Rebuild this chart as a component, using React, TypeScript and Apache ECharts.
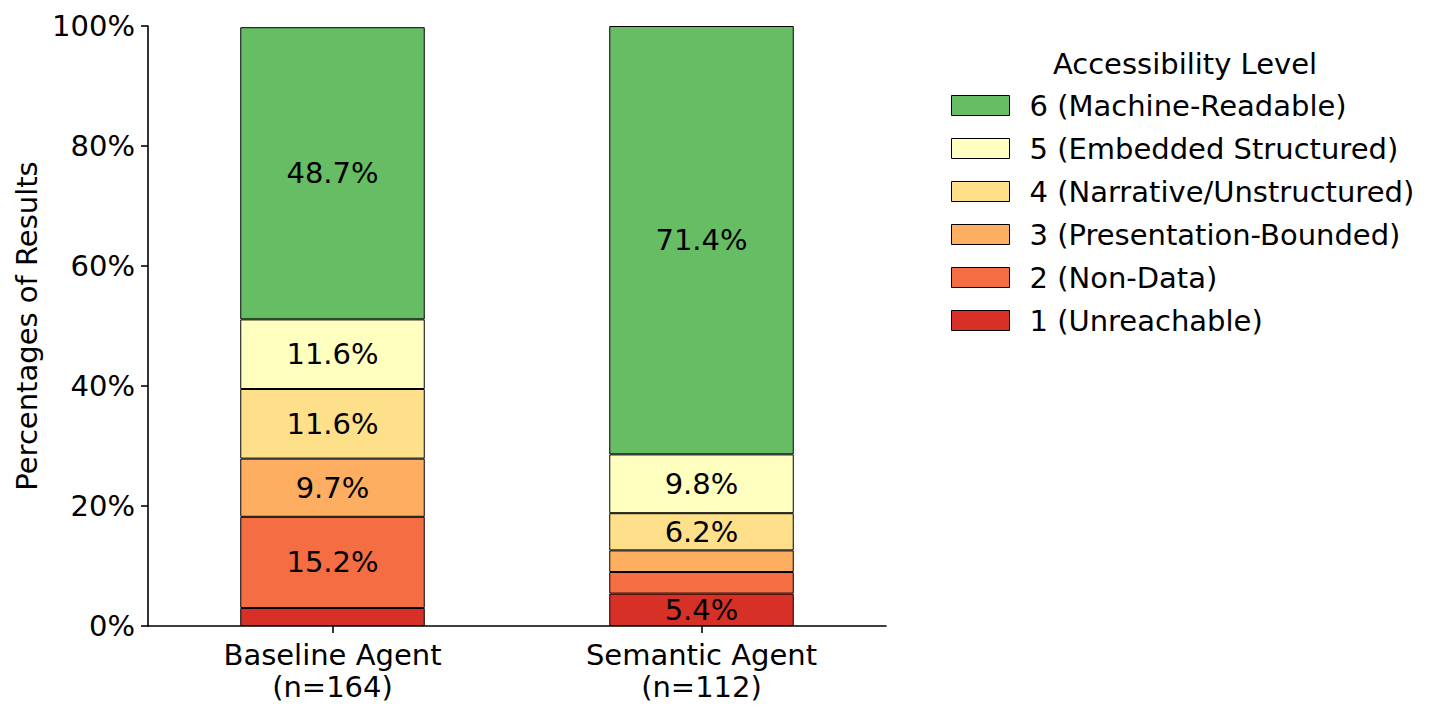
import React, { useEffect, useRef } from "react";
import * as echarts from "echarts";

const categories = ["Baseline Agent\n(n=164)", "Semantic Agent\n(n=112)"];
const levelNames = [
  "1 (Unreachable)",
  "2 (Non-Data)",
  "3 (Presentation-Bounded)",
  "4 (Narrative/Unstructured)",
  "5 (Embedded Structured)",
  "6 (Machine-Readable)",
];
const levelColors = ["#d73027", "#f46d43", "#fdae61", "#fee08b", "#ffffbf", "#66bd63"];
// percentages per level, [baseline, semantic]
const level1 = [3.0, 5.4];
const level2 = [15.2, 3.6];
const level3 = [9.7, 3.6];
const level4 = [11.6, 6.2];
const level5 = [11.6, 9.8];
const level6 = [48.7, 71.4];
const levelValues = [level1, level2, level3, level4, level5, level6];
const yTicks = [0, 20, 40, 60, 80, 100];
const legendTitle = "Accessibility Level";
const yAxisName = "Percentages of Results";

const FONT = "DejaVu Sans";
const FS = 29;

export default function App() {
  const ref = useRef<HTMLDivElement>(null);
  useEffect(() => {
    if (!ref.current) return;
    const chart = echarts.init(ref.current, null, { renderer: "svg" });
    const series = levelNames.map((name, i) => ({
      name,
      type: "bar",
      stack: "total",
      barWidth: "50%",
      data: levelValues[i],
      itemStyle: { color: levelColors[i], borderColor: "#000", borderWidth: 1 },
      label: {
        show: true,
        position: "inside",
        color: "#000",
        fontFamily: FONT,
        fontSize: FS,
        formatter: (p: any) => (p.value >= 5 ? p.value.toFixed(1) + "%" : ""),
      },
      emphasis: { disabled: true },
    }));
    chart.setOption({
      animation: false,
      textStyle: { fontFamily: FONT },
      grid: { left: 148, right: 559, top: 26, bottom: 90, containLabel: false },
      xAxis: {
        type: "category",
        data: categories,
        axisLine: { show: true, lineStyle: { color: "#000", width: 1.6 } },
        axisTick: { show: true, alignWithLabel: true, length: 7, lineStyle: { color: "#000", width: 1.6 } },
        axisLabel: { color: "#000", fontSize: FS, fontFamily: FONT, lineHeight: 32, margin: 13 },
      },
      yAxis: {
        type: "value",
        min: yTicks[0],
        max: yTicks[yTicks.length - 1],
        interval: 20,
        name: yAxisName,
        nameLocation: "middle",
        nameRotate: 90,
        nameGap: 106,
        nameTextStyle: { color: "#000", fontSize: FS, fontFamily: FONT },
        splitLine: { show: false },
        axisLine: { show: true, lineStyle: { color: "#000", width: 1.6 } },
        axisTick: { show: true, length: 7, lineStyle: { color: "#000", width: 1.6 } },
        axisLabel: { color: "#000", fontSize: FS, fontFamily: FONT, margin: 13, formatter: "{value}%" },
      },
      legend: {
        orient: "vertical",
        left: 951,
        top: 91,
        padding: 0,
        itemWidth: 58,
        itemHeight: 20,
        itemGap: 14,
        icon: "rect",
        selectedMode: false,
        itemStyle: { borderColor: "#000", borderWidth: 1 },
        data: [...levelNames].reverse(),
        textStyle: { color: "#000", fontSize: FS, fontFamily: FONT, lineHeight: 29, padding: [0, 0, 0, 15] },
      },
      graphic: [
        {
          type: "text",
          x: 1185,
          y: 64,
          style: {
            text: legendTitle,
            fill: "#000",
            font: `${FS}px "${FONT}"`,
            textAlign: "center",
            textVerticalAlign: "middle",
          },
        },
      ],
      series,
    });
    return () => chart.dispose();
  }, []);
  return (
    <div
      ref={ref}
      style={{ position: "fixed", left: 0, top: 0, width: 1445, height: 716, background: "#fff" }}
    />
  );
}
